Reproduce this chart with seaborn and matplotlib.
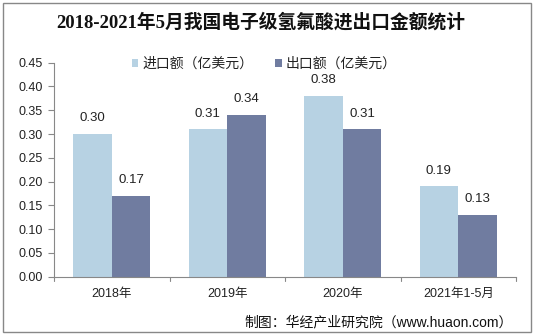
import matplotlib
matplotlib.use("Agg")
import matplotlib.pyplot as plt
import seaborn as sns
import pandas as pd
from matplotlib.patches import Rectangle

categories = ["2018年", "2019年", "2020年", "2021年1-5月"]
import_values = [0.30, 0.31, 0.38, 0.19]
export_values = [0.17, 0.34, 0.31, 0.13]
series_names = ["进口额（亿美元）", "出口额（亿美元）"]
title = "2018-2021年5月我国电子级氢氟酸进出口金额统计"
source = "制图：华经产业研究院（www.huaon.com）"
yticks = [0.00, 0.05, 0.10, 0.15, 0.20, 0.25, 0.30, 0.35, 0.40, 0.45]

sns.set_theme(style="white")
plt.rcParams['font.family'] = ['Liberation Sans', 'Noto Sans CJK SC', 'DejaVu Sans']

df = pd.DataFrame({
    "cat": categories * 2,
    "val": import_values + export_values,
    "series": [series_names[0]] * 4 + [series_names[1]] * 4,
})

colors = ["#b7d2e3", "#707ca0"]
fig = plt.figure(figsize=(5.35, 3.36), dpi=100)
ax = fig.add_axes([54/535, 1 - 276.7/336, (516-54)/535, (276.7-62.7)/336])
sns.barplot(data=df, x="cat", y="val", hue="series", palette=colors,
            width=0.67, ax=ax, saturation=1, legend=True, linewidth=0)

ax.set_ylim(0, 0.45)
ax.set_xlim(-0.5, 3.5)
ax.set_yticks(yticks)
ax.set_yticklabels([f"{v:.2f}" for v in yticks], fontsize=9, color="#222222")
ax.set_xlabel("")
ax.set_ylabel("")
ax.tick_params(axis="x", length=0, labelsize=9, labelcolor="#222222", pad=8)
ax.tick_params(axis="y", left=True, length=4, color="#888888", pad=4, width=0.8)
for s in ["top", "right"]:
    ax.spines[s].set_visible(False)
for s in ["left", "bottom"]:
    ax.spines[s].set_color("#888888")
    ax.spines[s].set_linewidth(0.8)
for xb in [-0.5, 0.5, 1.5, 2.5, 3.5]:
    ax.plot([xb, xb], [0, -0.008], color="#888888", lw=0.8, clip_on=False,
            transform=ax.transData)

for cont in ax.containers:
    ax.bar_label(cont, fmt="%.2f", padding=7, fontsize=9.5, color="#222222")

leg = ax.legend(loc="upper center", bbox_to_anchor=(0.455, 1.085), ncol=2, frameon=False,
                fontsize=10, handlelength=0.45, handleheight=0.45, handletextpad=0.3,
                columnspacing=1.6)
for t in leg.get_texts():
    t.set_color("#222222")

fig.text(0.488, 1 - 22/336, title, ha="center", va="center", fontsize=13.5,
         fontweight="bold", color="#111111",
         family=['Liberation Serif', 'Noto Sans CJK SC'])
fig.text(513/535, 1 - 322/336, source, ha="right", va="center", fontsize=10,
         color="#111111")

fig.patches.append(Rectangle((3/535, 1 - 332/336), (531-3)/535, (332-3)/336,
                             transform=fig.transFigure, fill=False,
                             edgecolor="#888888", lw=1))

fig.savefig("out.png", dpi=100)
